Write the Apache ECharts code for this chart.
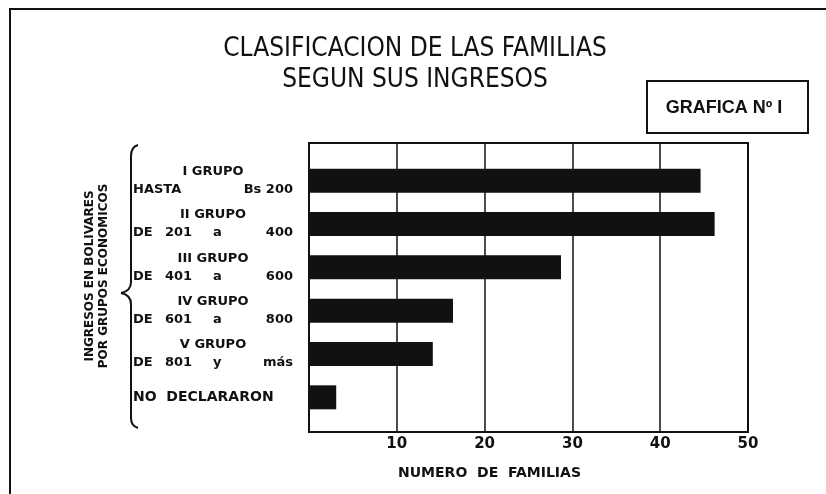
<!DOCTYPE html>
<html>
<head>
<meta charset="utf-8">
<script src="https://cdn.jsdelivr.net/npm/echarts@6.0.0/dist/echarts.min.js"></script>
<style>
  html, body { margin: 0; padding: 0; background: #fff; }
  #chart { width: 826px; height: 494px; }
</style>
</head>
<body>
<div id="chart"></div>
<script>
// valores
const groupHeads = ['I GRUPO', 'II GRUPO', 'III GRUPO', 'IV GRUPO', 'V GRUPO', 'NO DECLARARON'];
const rangeLeft = ['HASTA', 'DE', 'DE', 'DE', 'DE', ''];
const rangeNum = ['', '201', '401', '601', '801', ''];
const rangeConj = ['', 'a', 'a', 'a', 'y', ''];
const rangeRight = ['Bs 200', '400', '600', '800', 'más', ''];
const familias = [44.6, 46.2, 28.7, 16.4, 14.1, 3.1];
const xMin = 0;
const xMax = 50;
const xStep = 10;

const ink = '#111';
const labelFont = 'DejaVu Sans';

const chart = echarts.init(document.getElementById('chart'), null, { renderer: 'canvas' });

function rowLabel(value, idx) {
  if (!rangeLeft[idx]) return '{nd|' + groupHeads[idx].replace(' ', '  ') + '}';
  const head = '{h|' + groupHeads[idx] + '}';
  if (!rangeNum[idx]) {
    return head + '\n{lw|' + rangeLeft[idx] + '}{r|' + rangeRight[idx] + '}';
  }
  return head + '\n{l|' + rangeLeft[idx] + '}{n|' + rangeNum[idx] + '}{c|' +
    rangeConj[idx] + '}{r|' + rangeRight[idx] + '}';
}

const tokenBase = { fontFamily: labelFont, fontWeight: 'bold', fontSize: 13, color: ink, lineHeight: 18 };

// llave "{" junto a las categorias
const braceStyle = { stroke: ink, lineWidth: 2, fill: null };
const brace = [
  { type: 'bezierCurve', shape: { x1: 138, y1: 145, cpx1: 131, cpy1: 147, x2: 131, y2: 156 }, style: braceStyle },
  { type: 'line', shape: { x1: 131, y1: 156, x2: 131, y2: 282 }, style: braceStyle },
  { type: 'bezierCurve', shape: { x1: 131, y1: 282, cpx1: 131, cpy1: 291, x2: 121, y2: 293 }, style: braceStyle },
  { type: 'bezierCurve', shape: { x1: 121, y1: 293, cpx1: 131, cpy1: 295, x2: 131, y2: 304 }, style: braceStyle },
  { type: 'line', shape: { x1: 131, y1: 304, x2: 131, y2: 418 }, style: braceStyle },
  { type: 'bezierCurve', shape: { x1: 131, y1: 418, cpx1: 131, cpy1: 426, x2: 138, y2: 428 }, style: braceStyle }
];

chart.setOption({
  animation: false,
  backgroundColor: '#fff',
  title: {
    text: 'CLASIFICACION DE LAS FAMILIAS\nSEGUN SUS INGRESOS',
    left: 410,
    top: 29,
    textAlign: 'center',
    textStyle: {
      fontFamily: "'Liberation Sans Narrow', 'DejaVu Sans Condensed', sans-serif",
      fontWeight: 'normal',
      fontSize: 26,
      lineHeight: 31,
      color: ink
    }
  },
  grid: [
    { left: 309, top: 143, width: 439, height: 289, show: true, borderColor: ink, borderWidth: 2, backgroundColor: 'transparent' },
    { left: 309, top: 159, width: 439, height: 260 }
  ],
  xAxis: [
    {
      gridIndex: 0, type: 'value', min: xMin, max: xMax, interval: xStep,
      axisLine: { show: false }, axisTick: { show: false },
      splitLine: { show: true, lineStyle: { color: ink, width: 1.5 } },
      axisLabel: {
        margin: 5, color: ink, fontFamily: labelFont, fontWeight: 'bold', fontSize: 15,
        showMaxLabel: true,
        formatter: v => (v === 0 ? '' : String(v))
      },
      name: 'NUMERO  DE  FAMILIAS',
      nameLocation: 'middle',
      nameGap: 34,
      nameTextStyle: {
        color: ink, fontFamily: labelFont, fontWeight: 'bold', fontSize: 14,
        padding: [0, 78, 0, 0]
      }
    },
    { gridIndex: 1, type: 'value', min: xMin, max: xMax, show: false }
  ],
  yAxis: [
    { gridIndex: 0, type: 'value', show: false },
    {
      gridIndex: 1, type: 'category', data: groupHeads, inverse: true,
      axisLine: { show: false }, axisTick: { show: false },
      axisLabel: {
        margin: 16,
        formatter: rowLabel,
        rich: {
          h: Object.assign({}, tokenBase, { width: 146, align: 'center' }),
          l: Object.assign({}, tokenBase, { width: 32, align: 'left' }),
          lw: Object.assign({}, tokenBase, { width: 94, align: 'left' }),
          n: Object.assign({}, tokenBase, { width: 48, align: 'left' }),
          c: Object.assign({}, tokenBase, { width: 14, align: 'left' }),
          r: Object.assign({}, tokenBase, { width: 66, align: 'right' }),
          nd: Object.assign({}, tokenBase, { width: 160, align: 'left', fontSize: 14 })
        }
      }
    }
  ],
  series: [
    {
      type: 'bar',
      xAxisIndex: 1,
      yAxisIndex: 1,
      data: familias,
      barWidth: 24,
      itemStyle: { color: ink }
    }
  ],
  graphic: [
    // marco exterior (solo arriba e izquierda, la hoja esta recortada)
    { type: 'polyline', shape: { points: [[10, 494], [10, 9], [826, 9]] }, style: { stroke: ink, lineWidth: 2, fill: null } },
    // recuadro GRAFICA
    { type: 'rect', shape: { x: 647, y: 81, width: 161, height: 52 }, style: { stroke: ink, lineWidth: 2, fill: '#fff' } },
    {
      type: 'text', x: 724, y: 108,
      style: { text: 'GRAFICA Nº I', fill: ink, font: "bold 18px 'Liberation Sans', sans-serif", textAlign: 'center', textVerticalAlign: 'middle' }
    },
    ...brace,
    // titulo del eje vertical
    {
      type: 'text', x: 90, y: 276, rotation: Math.PI / 2,
      style: { text: 'INGRESOS EN BOLIVARES', fill: ink, font: "bold 12px 'DejaVu Sans', sans-serif", textAlign: 'center', textVerticalAlign: 'middle' }
    },
    {
      type: 'text', x: 104, y: 276, rotation: Math.PI / 2,
      style: { text: 'POR GRUPOS ECONOMICOS', fill: ink, font: "bold 12px 'DejaVu Sans', sans-serif", textAlign: 'center', textVerticalAlign: 'middle' }
    }
  ]
});
</script>
</body>
</html>
